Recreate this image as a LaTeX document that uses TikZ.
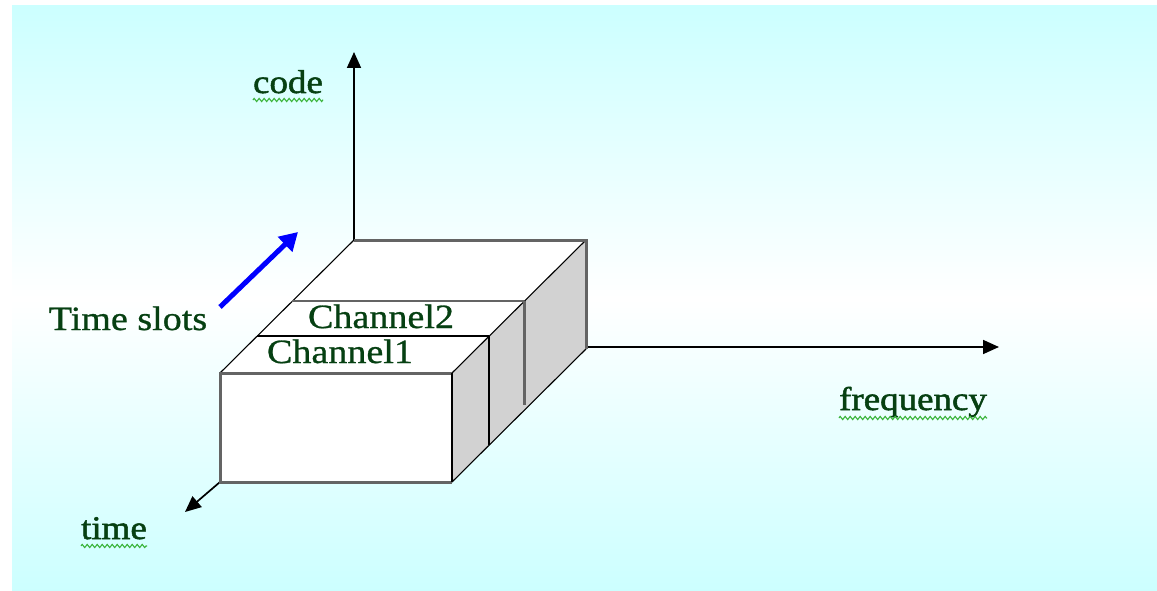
\documentclass[tikz,border=0pt]{standalone}
\usepackage{fontspec}
\setmainfont{Liberation Serif}
\newfontfamily\lblfont[FakeStretch=1.12,FakeBold=0.8]{Liberation Serif}
\newfontfamily\axisfont[FakeStretch=1.12,FakeBold=1.6]{Liberation Serif}
\usetikzlibrary{arrows.meta,decorations.pathmorphing}
\definecolor{bgcyan}{RGB}{204,255,255}
\definecolor{txtgreen}{RGB}{6,64,18}
\definecolor{squiggle}{RGB}{60,180,60}
\definecolor{sideface}{RGB}{210,210,210}
\definecolor{edgegray}{RGB}{100,100,100}
\definecolor{slotblue}{RGB}{0,0,255}
\begin{document}
\begin{tikzpicture}[x=1pt,y=-1pt,
  lbl/.style={font=\lblfont\fontsize{34}{38}\selectfont, text=txtgreen, inner sep=0pt, anchor=base},
  axlbl/.style={font=\axisfont\fontsize{33}{38}\selectfont, text=txtgreen, inner sep=0pt, anchor=base},
  axisline/.style={line width=1.7pt, -{Triangle[length=16pt,width=14pt]}},
  spell/.style={draw=squiggle, line width=1.1pt, decorate,
    decoration={zigzag, amplitude=1.6pt, segment length=5pt}},
  thinedge/.style={draw=black, line width=1.1pt},
  grayedge/.style={draw=edgegray, line width=3pt},
  darkedge/.style={draw=black, line width=2pt}]
\useasboundingbox (0,0) rectangle (1157,591);
% page and shaded panel
\fill[white] (0,0) rectangle (1157,591);
\shade[top color=bgcyan, bottom color=bgcyan, middle color=white] (12,6) rectangle (1157,591);

% corners of the box
\coordinate (ftl) at (220,373);
\coordinate (ftr) at (452,373);
\coordinate (fbl) at (220,482);
\coordinate (fbr) at (452,482);
\coordinate (btl) at (354,240);
\coordinate (btr) at (586,240);
\coordinate (bbr) at (586,349);
% slot dividers
\coordinate (s1l) at (257,336);
\coordinate (s1r) at (489,336);
\coordinate (s1b) at (489,445);
\coordinate (s2l) at (292,301);
\coordinate (s2r) at (524,301);
\coordinate (s2b) at (524,405);
% axis ends
\coordinate (codetip) at (354,52);
\coordinate (freqbase) at (586,347);
\coordinate (freqtip) at (999,347);
\coordinate (timetip) at (185,512);
\coordinate (slotA) at (220,307);
\coordinate (slotB) at (298,232);

% faces
\fill[sideface] (ftr) -- (btr) -- (bbr) -- (fbr) -- cycle;
\fill[white] (ftl) -- (ftr) -- (fbr) -- (fbl) -- cycle;
\fill[white] (ftl) -- (ftr) -- (btr) -- (btl) -- cycle;

% axes
\draw[axisline] (btl) -- (codetip);
\draw[axisline] (freqbase) -- (freqtip);
\draw[axisline] (fbl) -- (timetip);

% box edges
\draw[thinedge] (ftl) -- (btl);
\draw[thinedge] (ftr) -- (btr);
\draw[thinedge] (fbr) -- (bbr);
\draw[grayedge] (btl) -- (btr) -- (bbr);
\draw[grayedge] (ftr) -- (ftl) -- (fbl) -- (fbr);
\draw[darkedge] (ftr) -- (fbr);
\draw[draw=black, line width=1.8pt] (s1l) -- (s1r);
\draw[darkedge] (s1r) -- (s1b);
\draw[draw=edgegray, line width=2.2pt] (s2l) -- (s2r);
\draw[draw=edgegray, line width=3pt] (s2r) -- (s2b);

% time slot direction
\draw[slotblue, line width=5pt, -{Triangle[length=18pt,width=20pt]}] (slotA) -- (slotB);

% labels
\node[axlbl] (code) at (288,93) {code};
\node[axlbl] (freq) at (913,410) {frequency};
\node[axlbl] (time) at (114,539) {time};
\node[lbl] (slots) at (128,330) {Time slots};
\node[lbl] (ch1) at (340,363) {Channel1};
\node[lbl] (ch2) at (381,328) {Channel2};

% spelling squiggles under the axis names
\draw[spell] ([yshift=-7pt]code.base west) -- ([yshift=-7pt]code.base east);
\draw[spell] ([yshift=-8pt]freq.base west) -- ([yshift=-8pt]freq.base east);
\draw[spell] ([yshift=-7pt]time.base west) -- ([yshift=-7pt]time.base east);
\end{tikzpicture}
\end{document}
